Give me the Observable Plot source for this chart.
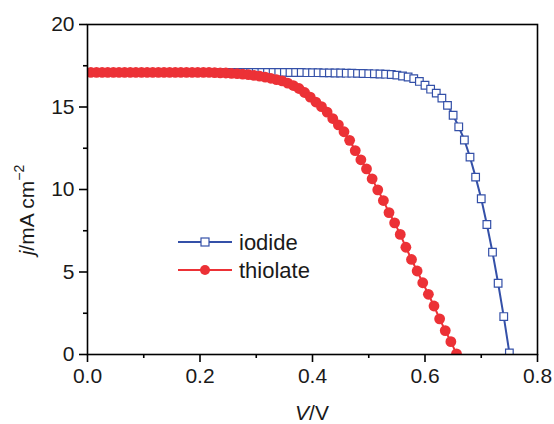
<!DOCTYPE html>
<html><head><meta charset="utf-8">
<script src="https://cdn.jsdelivr.net/npm/d3@7"></script>
<script src="https://cdn.jsdelivr.net/npm/@observablehq/plot@0.6"></script>
<style>body{margin:0;background:#fff;}#chart svg{display:block;}</style>
</head><body><div id="chart"></div>
<script>
// Series names
const seriesNames = ["iodide", "thiolate"];
// Axis ticks
const xMajorTicks = [0, 0.2, 0.4, 0.6, 0.8];
const xMinorTicks = [0.1, 0.3, 0.5, 0.7];
const yMajorTicks = [0, 5, 10, 15, 20];
const yMinorTicks = [2.5, 7.5, 12.5, 17.5];

// iodide: V (V) and j (mA cm^-2)
const iodideV = [0.00,0.01,0.02,0.03,0.04,0.05,0.06,0.07,0.08,0.09,
  0.10,0.11,0.12,0.13,0.14,0.15,0.16,0.17,0.18,0.19,
  0.20,0.21,0.22,0.23,0.24,0.25,0.26,0.27,0.28,0.29,
  0.30,0.31,0.32,0.33,0.34,0.35,0.36,0.37,0.38,0.39,
  0.40,0.41,0.42,0.43,0.44,0.45,0.46,0.47,0.48,0.49,
  0.50,0.51,0.52,0.53,0.54,0.55,0.56,0.57,0.58,0.59,
  0.60,0.61,0.62,0.63,0.64,0.65,0.66,0.67,0.68,0.69,
  0.70,0.71,0.72,0.73,0.74,0.75];
const iodideJ = [17.1,17.1,17.1,17.1,17.1,17.1,17.1,17.1,17.1,17.1,
  17.1,17.1,17.1,17.1,17.1,17.1,17.1,17.1,17.1,17.1,
  17.1,17.1,17.1,17.1,17.1,17.1,17.1,17.1,17.1,17.1,
  17.1,17.1,17.1,17.1,17.1,17.1,17.09,17.09,17.09,17.08,
  17.08,17.08,17.07,17.07,17.06,17.06,17.05,17.05,17.04,17.03,
  17.02,17.01,17.0,16.99,16.97,16.93,16.88,16.82,16.72,16.55,
  16.32,16.08,15.84,15.54,15.1,14.5,13.8,13.0,11.96,10.75,
  9.44,7.88,6.2,4.32,2.3,0.1];

// thiolate: V (V) and j (mA cm^-2)
const thiolateV = [0.006,0.016,0.026,0.036,0.046,0.056,0.066,0.076,0.086,0.096,
  0.106,0.116,0.126,0.136,0.146,0.156,0.166,0.176,0.186,0.196,
  0.206,0.216,0.226,0.236,0.246,0.256,0.266,0.276,0.286,0.296,
  0.306,0.316,0.326,0.336,0.346,0.356,0.366,0.376,0.386,0.396,
  0.406,0.416,0.426,0.436,0.446,0.456,0.466,0.476,0.486,0.496,
  0.506,0.516,0.526,0.536,0.546,0.556,0.566,0.576,0.586,0.596,
  0.606,0.616,0.626,0.636,0.646,0.656];
const thiolateJ = [17.1,17.1,17.1,17.1,17.1,17.1,17.1,17.1,17.1,17.1,
  17.1,17.1,17.1,17.1,17.1,17.1,17.1,17.1,17.1,17.1,
  17.1,17.1,17.08,17.07,17.06,17.04,17.02,16.99,16.96,16.92,
  16.87,16.81,16.74,16.66,16.58,16.45,16.3,16.12,15.88,15.6,
  15.3,15.02,14.69,14.3,13.92,13.5,12.98,12.36,11.8,11.25,
  10.65,9.98,9.33,8.6,7.98,7.28,6.5,5.76,5.06,4.35,
  3.65,2.94,2.16,1.45,0.78,0.04];

const blue = "#3450a8";
const red = "#ec3136";

const iodide = iodideV.map((v, i) => ({V: v, J: iodideJ[i]}));
const thiolate = thiolateV.map((v, i) => ({V: v, J: thiolateJ[i]}));

const chart = Plot.plot({
  width: 554,
  height: 424,
  marginLeft: 87,
  marginRight: 17,
  marginTop: 24,
  marginBottom: 70,
  style: {fontFamily: "'Liberation Sans', Arial, sans-serif", fontSize: "21px", background: "#fff", color: "#1a1a1a", overflow: "visible"},
  x: {domain: [0, 0.8]},
  y: {domain: [0, 20]},
  marks: [
    Plot.line(iodide, {x: "V", y: "J", stroke: blue, strokeWidth: 2, clip: true}),
    Plot.dot(iodide, {x: "V", y: "J", symbol: "square", r: 4.3, stroke: blue, strokeWidth: 1.2, fill: "white", clip: true}),
    Plot.line(thiolate, {x: "V", y: "J", stroke: red, strokeWidth: 2, clip: true}),
    Plot.dot(thiolate, {x: "V", y: "J", r: 5.4, fill: red, stroke: "none", clip: true}),
    Plot.frame({stroke: "#000", strokeWidth: 1.6}),
    Plot.axisX({ticks: xMajorTicks, tickSize: 8, tickPadding: 6, strokeWidth: 1.6, stroke: "#000", tickFormat: d3.format(".1f"), label: null, fill: "#1a1a1a"}),
    Plot.axisX({ticks: xMinorTicks, tickSize: 4, strokeWidth: 1.6, stroke: "#000", text: null, label: null}),
    Plot.axisY({ticks: yMajorTicks, tickSize: 8, tickPadding: 5, strokeWidth: 1.6, stroke: "#000", label: null, fill: "#1a1a1a"}),
    Plot.axisY({ticks: yMinorTicks, tickSize: 4, strokeWidth: 1.6, stroke: "#000", text: null, label: null})
  ]
});

document.getElementById("chart").append(chart);

const svg = d3.select(chart);
const font = "'Liberation Sans', Arial, sans-serif";

// x label
const xl = svg.append("text").attr("x", 312).attr("y", 420).attr("text-anchor", "middle")
  .attr("font-family", font).attr("font-size", 21).attr("fill", "#1a1a1a");
xl.append("tspan").attr("font-style", "italic").text("V");
xl.append("tspan").text("/V");

// y label
const yl = svg.append("text").attr("transform", "translate(34,210) rotate(-90)").attr("text-anchor", "middle")
  .attr("font-family", font).attr("font-size", 21).attr("fill", "#1a1a1a");
yl.append("tspan").attr("font-style", "italic").text("j");
yl.append("tspan").text("/mA cm");
yl.append("tspan").attr("font-size", 14).attr("dy", "-0.75em").text("\u22122");

// legend
const leg = svg.append("g").attr("font-family", font).attr("font-size", 22).attr("fill", "#1a1a1a");
const legRows = [
  {name: seriesNames[0], color: blue, y: 242, sym: "square"},
  {name: seriesNames[1], color: red, y: 270, sym: "circle"}
];
for (const r of legRows) {
  leg.append("line").attr("x1", 178).attr("x2", 232).attr("y1", r.y).attr("y2", r.y)
    .attr("stroke", r.color).attr("stroke-width", 2);
  if (r.sym === "square") {
    leg.append("rect").attr("x", 205 - 4).attr("y", r.y - 4).attr("width", 8).attr("height", 8)
      .attr("fill", "white").attr("stroke", r.color).attr("stroke-width", 1.2);
  } else {
    leg.append("circle").attr("cx", 205).attr("cy", r.y).attr("r", 5).attr("fill", r.color);
  }
  leg.append("text").attr("x", 239).attr("y", r.y).attr("dy", "0.35em").attr("text-anchor", "start").text(r.name);
}
</script>
</body></html>
